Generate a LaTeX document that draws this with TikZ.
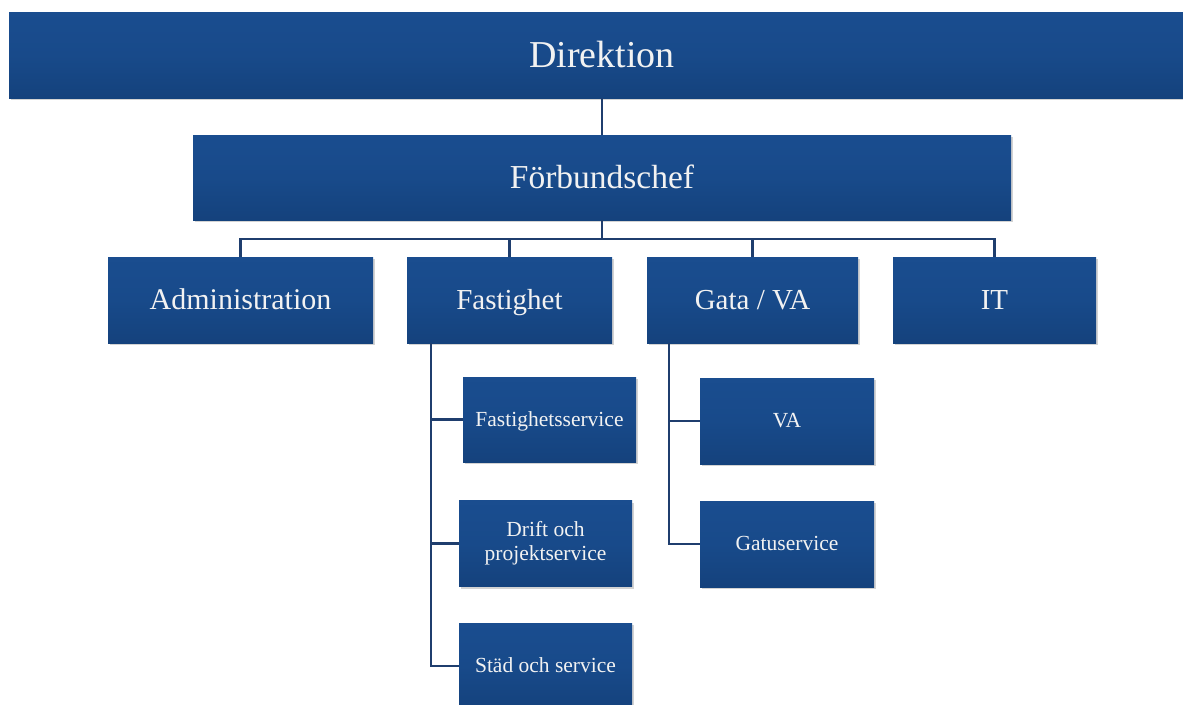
\documentclass[tikz,border=0pt]{standalone}
\usepackage{fontspec}
\setmainfont{Liberation Serif}
\usetikzlibrary{shadows}
\definecolor{boxtop}{HTML}{1B4F93}
\definecolor{boxmid}{HTML}{184A8A}
\definecolor{boxbot}{HTML}{113A70}
\definecolor{boxedge}{HTML}{0E3262}
\definecolor{hilite}{HTML}{4F86CC}
\definecolor{linecol}{HTML}{1F3E6E}
\definecolor{txt}{HTML}{F2F2F2}
\newcommand{\boxstrut}{\rule[-0.2em]{0pt}{1.05em}}
\pgfdeclareverticalshading{boxshade}{100bp}{color(0bp)=(boxedge); color(2bp)=(boxbot); color(50bp)=(boxmid); color(95bp)=(boxtop); color(96.5bp)=(hilite); color(100bp)=(hilite)}
\tikzset{
  orgbox/.style={rectangle, inner sep=0pt, text=txt, align=center,
    shading=boxshade,
    drop shadow={shadow xshift=1.5pt, shadow yshift=-2pt, opacity=0.35},
    execute at begin node={\boxstrut}},
  conn/.style={draw=linecol, line width=2.8pt}
}
\begin{document}
\begin{tikzpicture}[x=1pt,y=-1pt]
\useasboundingbox (0,0) rectangle (1183,704);
\clip (0,0) rectangle (1183,704);
% level 0 and 1
\node[orgbox, minimum width=1200pt, minimum height=86pt] (dir) at (609,55) {};
\node[text=txt, font=\fontsize{38}{44}\selectfont, execute at begin node={\boxstrut}] (dirt) at (602,55) {Direktion};
\node[orgbox, minimum width=818pt, minimum height=85pt, font=\fontsize{33.5}{38}\selectfont] (fc) at (602,177.5) {Förbundschef};
% level 2
\node[orgbox, minimum width=265pt, minimum height=86pt, font=\fontsize{30}{34}\selectfont] (adm) at (240.5,300) {Administration};
\node[orgbox, minimum width=205pt, minimum height=86pt, font=\fontsize{29}{34}\selectfont] (fas) at (509.5,300) {Fastighet};
\node[orgbox, minimum width=211pt, minimum height=86pt, font=\fontsize{29}{34}\selectfont] (gva) at (752.5,300) {Gata / VA};
\node[orgbox, minimum width=203pt, minimum height=86pt, font=\fontsize{29}{34}\selectfont] (it) at (994.5,300) {IT};
% level 3
\node[orgbox, minimum width=173pt, minimum height=85pt, font=\fontsize{21.5}{24}\selectfont] (fs) at (549.5,419.5) {Fastighetsservice};
\node[orgbox, minimum width=173pt, minimum height=86pt, font=\fontsize{21.5}{24}\selectfont] (dp) at (545.5,543.5) {Drift och\\projektservice};
\node[orgbox, minimum width=173pt, minimum height=86pt, font=\fontsize{21.5}{24}\selectfont] (sos) at (545.5,666) {Städ och service};
\node[orgbox, minimum width=174pt, minimum height=86pt, font=\fontsize{21.5}{24}\selectfont] (va) at (787,421) {VA};
\node[orgbox, minimum width=174pt, minimum height=86pt, font=\fontsize{21.5}{24}\selectfont] (gs) at (787,544) {Gatuservice};
% connectors
\coordinate (bus) at (602,239);
\draw[conn] (dir.south -| fc.north) -- (fc.north);
\draw[conn] (fc.south) -- (bus);
\draw[conn] (adm.north) |- (bus) -| (it.north);
\draw[conn] (fas.north) -- (fas.north |- bus);
\draw[conn] (gva.north) -- (gva.north |- bus);
\coordinate (fv) at (431,343);
\coordinate (gv) at (669,343);
\draw[conn] (fv) |- (fs.west);
\draw[conn] (fv) |- (dp.west);
\draw[conn] (fv) |- (sos.west);
\draw[conn] (gv) |- (va.west);
\draw[conn] (gv) |- (gs.west);
\end{tikzpicture}
\end{document}
